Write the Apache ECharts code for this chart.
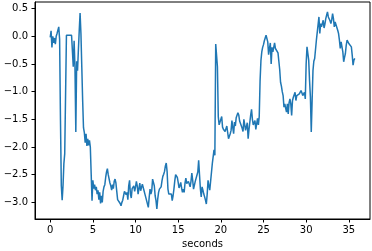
<!DOCTYPE html>
<html>
<head>
<meta charset="utf-8">
<script src="https://cdn.jsdelivr.net/npm/echarts@6/dist/echarts.min.js"></script>
<style>
  html, body { margin: 0; padding: 0; background: #fff; }
  #chart { width: 372px; height: 251px; }
</style>
</head>
<body>
<div id="chart"></div>
<script>
// signal sampled every 0.1 s, starting at t = 0
const sampleStep = 0.1;
const values = [
  // 0 - 5 s
  -0.02, 0.1, -0.2, 0.0, -0.12, -0.03, -0.14, 0.0, 0.05, 0.08,
  0.17, -0.05, -1.5, -2.7, -2.96, -2.7, -2.3, -2.12, -2.12, 0.02,
  0.02, 0.02, 0.02, 0.02, 0.02, 0.02, 0.0, -0.55, -0.08, -0.55,
  -1.73, -0.45, -0.62, -0.25, 0.1, 0.42, 0.05, -0.55, -1.15, -1.65,
  -1.74, -1.92, -1.76, -1.98, -1.85, -1.97, -1.88, -2.0, -1.99, -2.97,
  // 5 - 10 s
  -2.6, -2.75, -2.68, -2.78, -2.72, -2.85, -2.78, -2.95, -2.82, -3.02,
  -2.88, -3.0, -2.8, -2.72, -2.68, -2.55, -2.45, -2.39, -2.5, -2.52,
  -2.65, -2.7, -2.78, -2.68, -2.75, -2.62, -2.58, -2.65, -2.8, -2.95,
  -2.92, -2.98, -3.02, -3.06, -3.0, -2.96, -2.88, -2.8, -2.78, -2.86,
  -2.82, -2.95, -2.7, -2.6, -2.85, -2.92, -2.75, -2.78, -2.7, -2.8,
  // 10 - 15 s
  -2.72, -2.62, -2.7, -2.85, -2.75, -2.65, -2.79, -2.78, -2.67, -2.65,
  -2.79, -2.85, -2.91, -2.9, -2.94, -3.09, -2.91, -2.76, -2.85, -2.79,
  -2.58, -2.64, -2.7, -2.88, -2.97, -3.12, -2.94, -2.82, -2.76, -2.74,
  -2.72, -2.61, -2.53, -2.49, -2.44, -2.34, -2.29, -2.44, -2.76, -2.85,
  -2.88, -2.82, -2.85, -2.97, -2.88, -2.76, -2.61, -2.5, -2.52, -2.55,
  // 15 - 20 s
  -2.64, -2.74, -2.7, -2.64, -2.74, -2.82, -2.76, -2.82, -2.65, -2.56,
  -2.66, -2.67, -2.62, -2.63, -2.72, -2.62, -2.47, -2.6, -2.76, -2.73,
  -2.62, -2.63, -2.64, -2.45, -2.24, -2.5, -2.75, -2.9, -2.72, -2.78,
  -2.85, -2.9, -2.96, -3.03, -2.85, -2.6, -2.7, -2.78, -2.77, -2.75,
  -2.3, -2.3, -2.05, -2.15, -0.14, -0.15, -0.55, -1.45, -1.6, -1.62,
  // 20 - 25 s
  -1.57, -1.45, -1.64, -1.68, -1.71, -1.72, -1.73, -1.62, -1.6, -1.85,
  -1.82, -1.76, -1.7, -1.52, -1.65, -1.76, -1.55, -1.62, -1.47, -1.5,
  -1.38, -1.42, -1.53, -1.5, -1.5, -1.66, -1.72, -1.5, -1.6, -1.7,
  -1.68, -1.56, -1.85, -1.68, -1.55, -1.42, -1.32, -1.5, -1.6, -1.62,
  -1.52, -1.68, -1.58, -1.48, -1.6, -1.45, -0.8, -0.44, -0.28, -0.2,
  // 25 - 30 s
  -0.15, -0.08, -0.03, 0.02, 0.0, -0.1, -0.33, -0.22, -0.12, -0.5,
  -0.2, -0.28, -0.2, -0.12, -0.22, -0.2, -0.22, -0.3, -0.45, -0.6,
  -0.83, -0.9, -1.0, -1.07, -1.28, -1.22, -1.3, -1.37, -1.22, -1.4,
  -1.2, -1.13, -1.22, -1.43, -1.16, -1.1, -1.07, -1.01, -1.16, -1.07,
  -1.1, -1.1, -1.04, -1.07, -0.98, -1.02, -1.07, -1.04, -1.01, -1.13,
  // 30 - 35.7 s
  -0.5, -0.19, -0.16, -0.43, -0.8, -1.1, -1.73, -1.16, -0.62, -0.45,
  -0.4, -0.37, -0.07, -0.05, -0.04, 0.35, 0.05, 0.23, 0.17, 0.2,
  0.29, 0.15, 0.22, 0.32, 0.38, 0.44, 0.35, 0.32, 0.28, 0.23,
  0.3, 0.41, 0.32, 0.17, 0.26, 0.24, 0.23, 0.11, 0.05, -0.07,
  -0.22, -0.1, -0.13, -0.28, -0.46, -0.38, -0.31, -0.16, -0.07, -0.1,
  -0.13, -0.12, -0.1, -0.19, -0.34, -0.52, -0.43, -0.4
];

const xTicks = [0, 5, 10, 15, 20, 25, 30, 35];
const yTicks = [-3.0, -2.5, -2.0, -1.5, -1.0, -0.5, 0.0, 0.5];
const xRange = [-1.785, 37.485];
const yRange = [-3.3, 0.62];

const points = values.map((v, i) => [+(i * sampleStep).toFixed(1), v]);

const minusFmt = v => (v < 0 ? '\u2212' : '') + Math.abs(v).toFixed(1);

const chart = echarts.init(document.getElementById('chart'), null, { renderer: 'canvas' });
const tickStyle = { show: true, inside: false, length: 3.5, lineStyle: { color: '#000', width: 1 } };
const labelFont = { color: '#000', fontFamily: 'DejaVu Sans', fontSize: 10 };

chart.setOption({
  animation: false,
  grid: {
    left: 35, right: 2, top: 2, bottom: 32,
    show: true, borderColor: '#000', borderWidth: 1,
    outerBoundsMode: 'none'
  },
  xAxis: {
    type: 'value',
    min: xRange[0], max: xRange[1],
    name: 'seconds',
    nameLocation: 'middle',
    nameGap: 20,
    nameTextStyle: labelFont,
    axisLine: { show: true, onZero: false, lineStyle: { color: '#000', width: 1 } },
    axisTick: Object.assign({ customValues: xTicks }, tickStyle),
    axisLabel: Object.assign({ customValues: xTicks, margin: 6, formatter: v => String(v) }, labelFont),
    splitLine: { show: false }
  },
  yAxis: {
    type: 'value',
    min: yRange[0], max: yRange[1],
    axisLine: { show: true, onZero: false, lineStyle: { color: '#000', width: 1 } },
    axisTick: Object.assign({ customValues: yTicks }, tickStyle),
    axisLabel: Object.assign({ customValues: yTicks, margin: 7, formatter: minusFmt }, labelFont),
    splitLine: { show: false }
  },
  series: [{
    type: 'line',
    data: points,
    showSymbol: false,
    symbol: 'none',
    lineStyle: { color: '#1f77b4', width: 1.5 },
    clip: true
  }]
});
</script>
</body>
</html>
